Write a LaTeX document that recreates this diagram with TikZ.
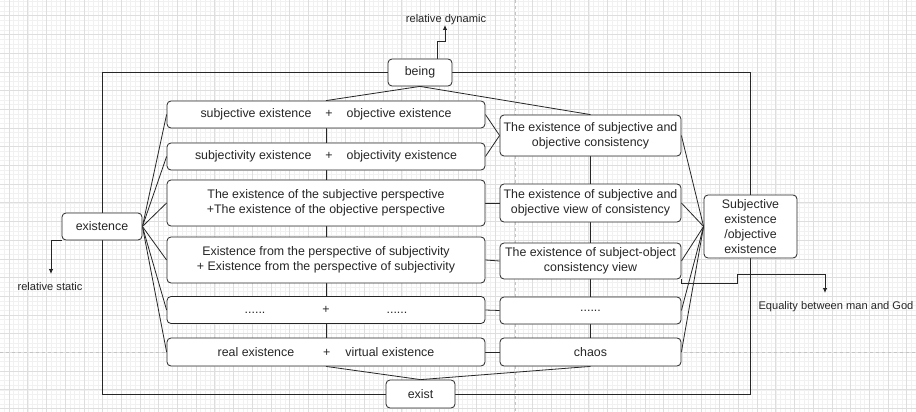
\documentclass[tikz,border=0pt]{standalone}
\usepackage{fontspec}
\setmainfont{Liberation Sans}
\usetikzlibrary{arrows.meta,calc}
\pgfdeclarelayer{gridlayer}
\pgfdeclarelayer{background}
\pgfsetlayers{gridlayer,background,main}
\definecolor{minorgrid}{HTML}{F1F1F1}
\definecolor{majorgrid}{HTML}{DEDEDE}
\definecolor{pagebreak}{HTML}{C4C4C4}
\definecolor{ink}{HTML}{262626}
\tikzset{
  box/.style={draw=ink, line width=0.8pt, rounded corners=4pt, fill=white, align=center,
    inner sep=0pt, text=ink, font=\fontsize{12.4}{15}\selectfont},
  conn/.style={draw=ink, line width=0.8pt},
  arr/.style={conn, -{Latex[length=5pt,width=4.5pt]}},
  lbl/.style={inner sep=0pt, text=ink, font=\fontsize{11.1}{13}\selectfont},
  minorline/.style={draw=minorgrid, line width=0.4pt},
  majorline/.style={draw=majorgrid, line width=0.5pt},
  pageline/.style={draw=pagebreak, line width=0.6pt, dash pattern=on 3pt off 3pt},
}
\begin{document}
\begin{tikzpicture}[x=1pt,y=-1pt]
\useasboundingbox (0,0) rectangle (916,412);

% ---- nodes ----
\node[box, minimum width=64pt, minimum height=27pt] (being) at (420,72.5) {being};
\node[box, minimum width=69pt, minimum height=28pt] (exist) at (420.5,394) {exist};
\node[box, minimum width=80pt, minimum height=27pt] (existence) at (102,226.5) {existence};
\node[box, minimum width=93pt, minimum height=63pt] (SE) at (750.5,226.5) {Subjective\\existence\\/objective\\existence};

\node[box, minimum width=318pt, minimum height=27pt] (L1) at (326,114.5)
  {subjective existence\hspace{14pt}+\hspace{14pt}objective existence};
\node[box, minimum width=318pt, minimum height=27pt] (L2) at (326,156.5)
  {subjectivity existence\hspace{14pt}+\hspace{14pt}objectivity existence};
\node[box, minimum width=318pt, minimum height=46pt] (L3) at (326,203)
  {The existence of the subjective perspective\\+The existence of the objective perspective};
\node[box, minimum width=318pt, minimum height=46pt] (L4) at (326,260)
  {Existence from the perspective of subjectivity\\+ Existence from the perspective of subjectivity};
\node[box, minimum width=318pt, minimum height=27pt] (L5) at (326,310)
  {......\hspace{57pt}+\hspace{57pt}......};
\node[box, minimum width=318pt, minimum height=28pt] (L6) at (326,352)
  {real existence\hspace{29pt}+\hspace{15pt}virtual existence};

\node[box, minimum width=181pt, minimum height=41pt] (R1) at (590.5,135.5)
  {The existence of subjective and\\objective consistency};
\node[box, minimum width=181pt, minimum height=38pt] (R2) at (590.5,203)
  {The existence of subjective and\\objective view of consistency};
\node[box, minimum width=181pt, minimum height=36pt] (R3) at (590.5,261)
  {The existence of subject-object\\consistency view};
\node[box, minimum width=181pt, minimum height=27pt] (R4) at (590.5,310.5) {......};
\node[box, minimum width=181pt, minimum height=28pt] (R5) at (590.5,352) {chaos};

\node[lbl] (reldyn) at (446,20) {relative dynamic};
\node[lbl] (relstat) at (50,287) {relative static};
\node[lbl] (equal) at (836,307) {Equality between man and God};

\coordinate (rdTip) at (445,25);
\coordinate (rsTip) at (51,274);
\coordinate (eqTip) at (825,293);

% ---- grid ----
\begin{pgfonlayer}{gridlayer}
  \fill[white] (0,0) rectangle (916,412);
  \foreach \i in {-2,...,196} {\draw[minorline] ({9+\i*4.675},0) -- ({9+\i*4.675},412);}
  \foreach \j in {-4,...,86} {\draw[minorline] (0,{15.7+\j*4.675}) -- (916,{15.7+\j*4.675});}
  \foreach \i in {0,...,49} {\draw[majorline] ({9+\i*18.7},0) -- ({9+\i*18.7},412);}
  \foreach \j in {-1,...,21} {\draw[majorline] (0,{15.7+\j*18.7}) -- (916,{15.7+\j*18.7});}
  \draw[pageline] (515,0) -- (515,412);
  \draw[pageline] (0,352) -- (916,352);
\end{pgfonlayer}

% ---- connectors ----
\begin{pgfonlayer}{background}
  % outer frame
  \draw[conn] (being.west) -| (existence.north);
  \draw[conn] (existence.south) |- (exist.west);
  \draw[conn] (being.east) -| (SE.north);
  \draw[conn] (SE.south) |- (exist.east);
  % being / exist
  \draw[conn] (being.south) -- (L1.north);
  \draw[conn] (being.south) -- (R1.north);
  \draw[conn] (L6.south) -- (exist.north);
  \draw[conn] (R5.south) -- (exist.north);
  % left column
  \draw[conn] (L1.south) -- (L2.north);
  \draw[conn] (L2.south) -- (L3.north);
  \draw[conn] (L3.south) -- (L4.north);
  \draw[conn] (L4.south) -- (L5.north);
  \draw[conn] (L5.south) -- (L6.north);
  % right column
  \draw[conn] (R1.south) -- (R2.north);
  \draw[conn] (R2.south) -- (R3.north);
  \draw[conn] (R3.south) -- (R4.north);
  \draw[conn] (R4.south) -- (R5.north);
  % left to right
  \draw[conn] (L1.east) -- (R1.west);
  \draw[conn] (L2.east) -- (R1.west);
  \draw[conn] (L3.east) -- (R2.west);
  \draw[conn] (L4.east) -- (R3.west);
  \draw[conn] (L5.east) -- (R4.west);
  \draw[conn] (L6.east) -- (R5.west);
  % existence fan
  \foreach \n in {L1,L2,L3,L4,L5,L6} {\draw[conn] (existence.east) -- (\n.west);}
  % SE fan
  \foreach \n in {R1,R2,R3,R4,R5} {\draw[conn] (SE.west) -- (\n.east);}
  % arrows to labels
  \draw[arr] ($(being.north)+(17,0)$) |- (445,41) -- (rdTip);
  \draw[arr] (existence.south west) -| (rsTip);
  \draw[arr] (R3.south east) |- (737,283) |- (825,274.5) -- (eqTip);
\end{pgfonlayer}
\end{tikzpicture}
\end{document}
